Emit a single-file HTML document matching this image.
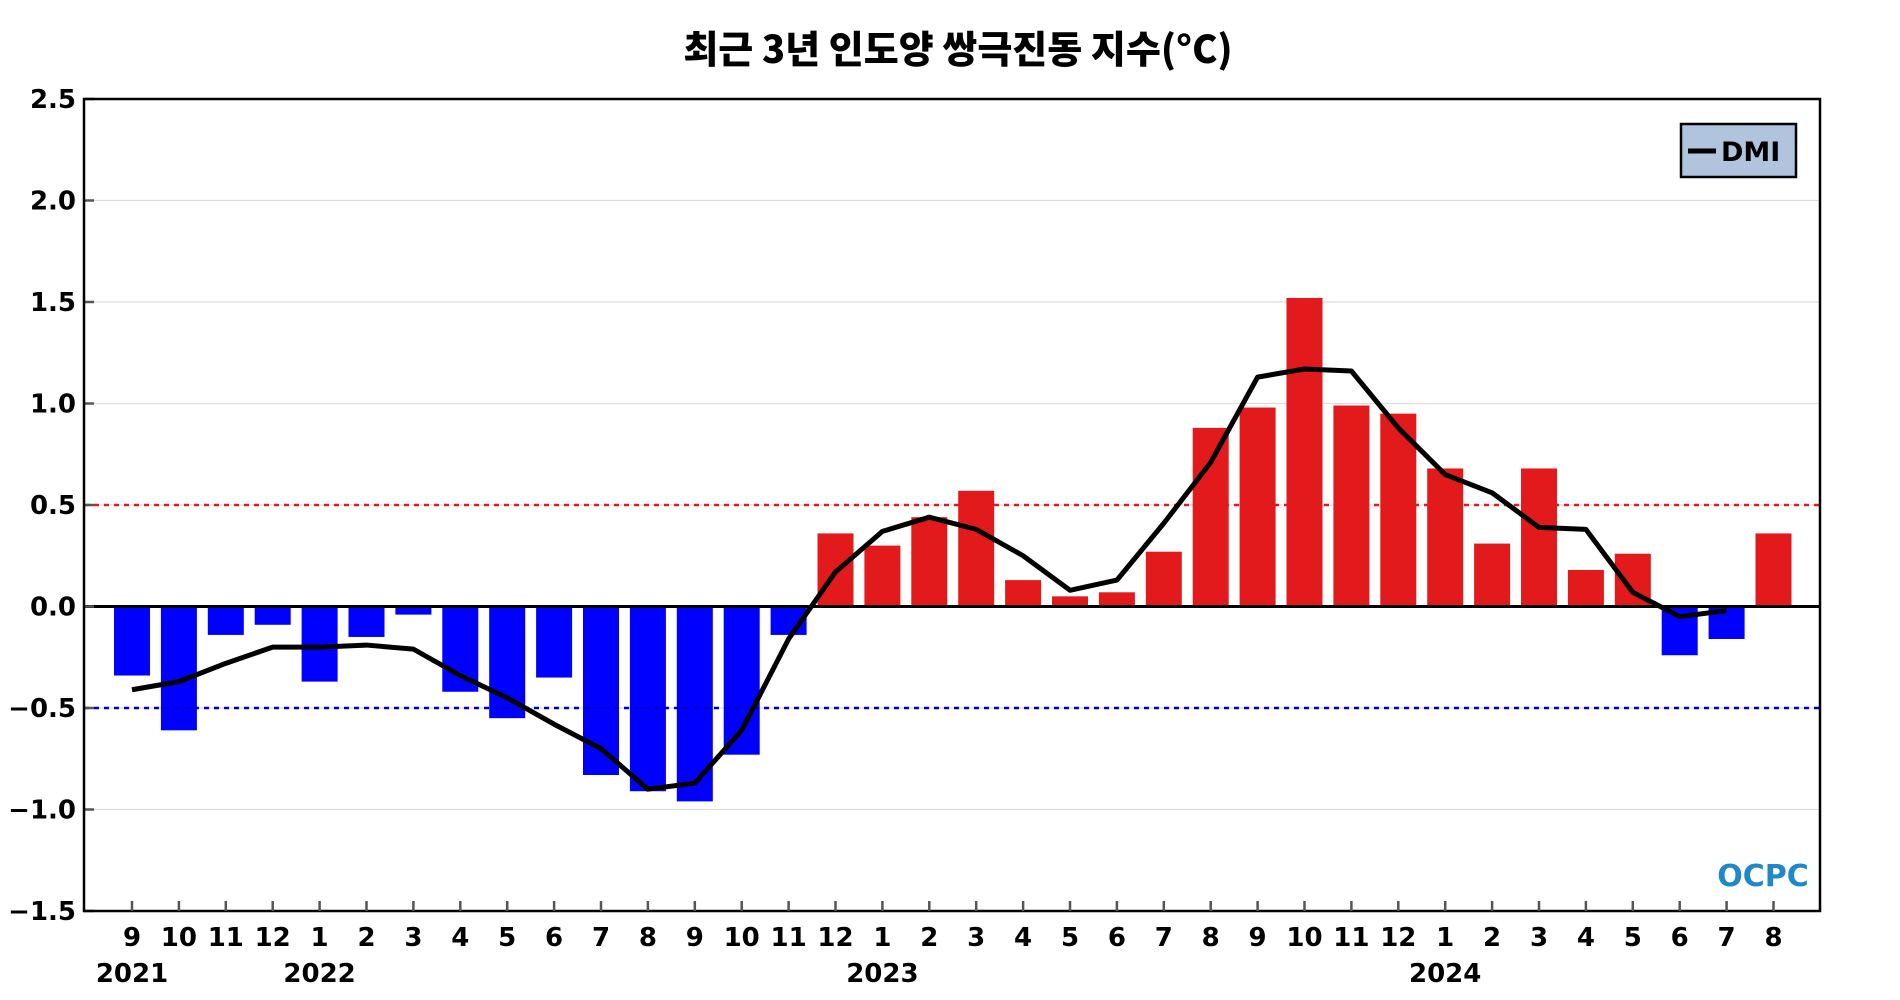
<!DOCTYPE html>
<html><head><meta charset="utf-8"><style>
body{margin:0;background:#fff;}
svg{display:block;font-family:"DejaVu Sans","Liberation Sans","Noto Sans CJK KR",sans-serif;}
</style></head><body>
<svg id="chart" width="1900" height="1000" viewBox="0 0 1900 1000">
<text x="958" y="63" text-anchor="middle" font-size="38" font-weight="900" font-family="'Noto Sans CJK KR',sans-serif">최근 3년 인도양 쌍극진동 지수(°C)</text>
<g id="grid"></g>
<g id="bars"></g>
<g id="lines"></g>
<g id="axes"></g>
<g>
<rect x="1681" y="124" width="115" height="53" fill="#b0c4de" stroke="#000" stroke-width="2.5"/>
<line x1="1688" y1="151" x2="1716" y2="151" stroke="#000" stroke-width="5"/>
<text x="1721" y="161" font-size="27" font-weight="bold">DMI</text>
</g>
<text x="1763" y="886" text-anchor="middle" font-size="30" font-weight="bold" fill="#1e88c8">OCPC</text>
</svg>
<script>
const months=["9","10","11","12","1","2","3","4","5","6","7","8","9","10","11","12","1","2","3","4","5","6","7","8","9","10","11","12","1","2","3","4","5","6","7","8"];
const years=[["2021",0],["2022",4],["2023",16],["2024",28]];
const barValues=[-0.34,-0.61,-0.14,-0.09,-0.37,-0.15,-0.04,-0.42,-0.55,-0.35,-0.83,-0.91,-0.96,-0.73,-0.14,0.36,0.30,0.44,0.57,0.13,0.05,0.07,0.27,0.88,0.98,1.52,0.99,0.95,0.68,0.31,0.68,0.18,0.26,-0.24,-0.16,0.36];
const lineValues=[-0.41,-0.37,-0.28,-0.20,-0.20,-0.19,-0.21,-0.34,-0.45,-0.58,-0.70,-0.90,-0.87,-0.61,-0.16,0.17,0.37,0.44,0.38,0.25,0.08,0.13,0.41,0.71,1.13,1.17,1.16,0.88,0.65,0.56,0.39,0.38,0.07,-0.05,-0.02];
const yTicks=[2.5,2.0,1.5,1.0,0.5,0.0,-0.5,-1.0,-1.5];
const NS="http://www.w3.org/2000/svg";
const L=84,R=1820,T=99,B=911;
function y(v){return T+(2.5-v)*(B-T)/4;}
function x(i){return 132+i*46.9;}
function mk(t,a,p){const e=document.createElementNS(NS,t);for(const k in a)e.setAttribute(k,a[k]);p.appendChild(e);return e;}
const grid=document.getElementById('grid'),bars=document.getElementById('bars'),lines=document.getElementById('lines'),axes=document.getElementById('axes');
yTicks.forEach(v=>{
  if(v!==2.5&&v!==-1.5&&v!==0){const g=mk('line',{x1:L,x2:R,y1:y(v),y2:y(v),stroke:'#ddd','stroke-width':1.2},grid);
  
  }
  const t=mk('text',{x:76,y:y(v)+9,'text-anchor':'end','font-size':26,'font-weight':'bold'},axes);
  t.textContent=(v<0?'−':'')+Math.abs(v).toFixed(1);
  
  
  mk('line',{x1:L,x2:L+10,y1:y(v),y2:y(v),stroke:'#555','stroke-width':2.5},axes);
});
barValues.forEach((v,i)=>{
  const r=mk('rect',{x:x(i)-18,width:36,y:Math.min(y(v),y(0)),height:Math.abs(y(v)-y(0)),fill:v>=0?'#e31a1c':'#0000ff'},bars);
  
  
});
const ref1=mk('line',{x1:L,x2:R,y1:y(0.5),y2:y(0.5),stroke:'#e31a1c','stroke-width':2.5,'stroke-dasharray':'5,5'},lines);


const ref2=mk('line',{x1:L,x2:R,y1:y(-0.5),y2:y(-0.5),stroke:'#0000cc','stroke-width':2.5,'stroke-dasharray':'5,5'},lines);


const zl=mk('line',{x1:L,x2:R,y1:y(0),y2:y(0),stroke:'#000','stroke-width':3},lines);


const pl=mk('polyline',{points:lineValues.map((v,i)=>x(i)+','+y(v)).join(' '),fill:'none',stroke:'#000','stroke-width':5,'stroke-linejoin':'round'},lines);


const fr=mk('rect',{x:L,y:T,width:R-L,height:B-T,fill:'none',stroke:'#000','stroke-width':2.5},axes);


months.forEach((m,i)=>{
  mk('line',{x1:x(i),x2:x(i),y1:B,y2:B-10,stroke:'#555','stroke-width':2.5},axes);
  const t=mk('text',{x:x(i),y:946,'text-anchor':'middle','font-size':26,'font-weight':'bold'},axes);
  t.textContent=m;
  
  
});
years.forEach(([yr,i])=>{
  const t=mk('text',{x:x(i),y:982,'text-anchor':'middle','font-size':26,'font-weight':'bold'},axes);
  t.textContent=yr;
  
  
});
</script>
</body></html>
